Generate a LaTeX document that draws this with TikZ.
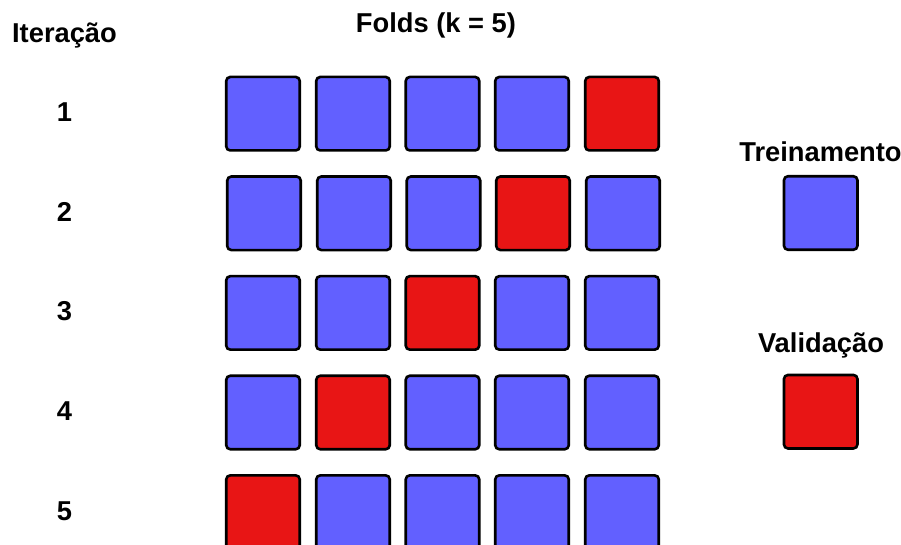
\documentclass[tikz,border=0pt]{standalone}
\usepackage{fontspec}
\setmainfont{Liberation Sans}
\definecolor{trainblue}{RGB}{98,96,255}
\definecolor{valred}{RGB}{232,21,21}
\begin{document}
\begin{tikzpicture}[x=1pt,y=-1pt,
  fold/.style={draw=black,line width=2.6pt,rounded corners=4pt,minimum width=73.5pt,minimum height=73.5pt,inner sep=0pt,outer sep=0pt},
  tr/.style={fold,fill=trainblue},
  va/.style={fold,fill=valred},
  lbl/.style={font=\fontsize{27.3}{31}\selectfont\bfseries,anchor=base,inner sep=0pt}]
\useasboundingbox (0,0) rectangle (901,545);
\node[lbl] (iter) at (64.5,42.3) {Iteração};
\node[lbl] (folds) at (436,32.3) {Folds (k = 5)};
\node[lbl] (treinl) at (820.5,161.7) {Treinamento};
\node[lbl] (validl) at (821,352.3) {Validação};
\foreach \r/\yy/\dx in {1/113.7/0,2/213.3/1,3/312.9/0,4/412.5/0,5/512.1/0}{
  \node[lbl] (n\r) at (64.5,\yy+8) {\r};
  \foreach \c/\xx in {1/263,2/353,3/442.5,4/532,5/622}{
    \pgfmathtruncatemacro{\isval}{(\c==6-\r)?1:0}
    \ifnum\isval=1
      \node[va] (b\r\c) at (\xx+\dx,\yy) {};
    \else
      \node[tr] (b\r\c) at (\xx+\dx,\yy) {};
    \fi
  }
}
\node[tr] (legt) at (820.7,213) {};
\node[va] (legv) at (820.7,411.7) {};
\end{tikzpicture}
\end{document}
